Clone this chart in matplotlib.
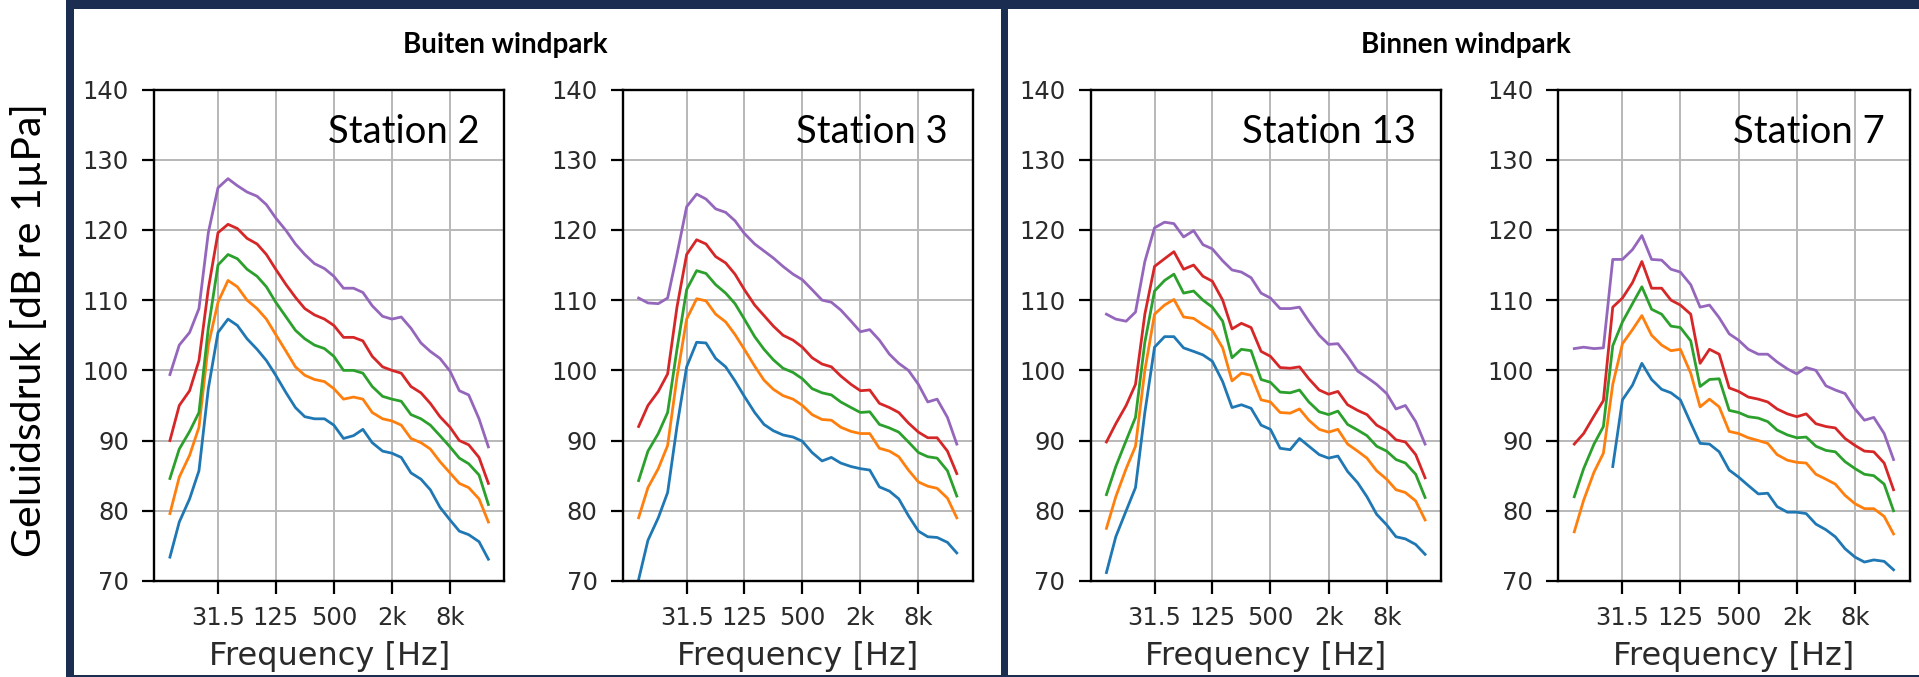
import numpy as np
import matplotlib
matplotlib.use("Agg")
from matplotlib import pyplot as plt
from matplotlib.patches import Rectangle
from matplotlib.ticker import NullLocator

## third-octave band centres [Hz]
freqs = [10, 12.5, 16, 20, 25, 31.5, 40, 50, 63, 80, 100, 125, 160, 200, 250, 315,
         400, 500, 630, 800, 1000, 1250, 1600, 2000, 2500, 3150, 4000, 5000, 6300,
         8000, 10000, 12500, 16000, 20000]
tick_freqs = [31.5, 125, 500, 2000, 8000]
tick_labels = ['31.5', '125', '500', '2k', '8k']

## Station 2 (buiten windpark)
st2_blue = [73.4, 78.4, 81.7, 85.7, 97.4, 105.4, 107.3, 106.4, 104.5, 103, 101.4, 99.3, 96.8, 94.7, 93.4, 93.1, 93.1,
            92.2, 90.3, 90.7, 91.6, 89.7, 88.5, 88.2, 87.6, 85.4, 84.5, 83, 80.5, 78.7, 77.1, 76.6, 75.6, 73.1]
st2_orange = [79.6, 84.8, 87.9, 91.9, 103.6, 109.7, 112.8, 111.9, 110, 108.8, 107.3, 105.1, 102.7, 100.5, 99.3, 98.7,
              98.4, 97.4, 95.9, 96.2, 95.9, 94, 93.1, 92.8, 92.2, 90.3, 89.7, 88.8, 87, 85.4, 83.9, 83.3, 81.7, 78.4]
st2_green = [84.6, 88.8, 91.3, 94, 106, 115, 116.5, 115.9, 114.4, 113.4, 111.9, 109.7, 107.6, 105.7, 104.5, 103.6,
             103.1, 102, 100, 100, 99.6, 97.7, 96.3, 95.9, 95.6, 93.7, 93.1, 92.2, 90.7, 89.1, 87.5, 86.7, 85.1, 80.9]
st2_red = [90, 95, 97.1, 101.4, 111.6, 119.6, 120.8, 120.2, 118.8, 118, 116.5, 114.4, 112.2, 110.4, 108.8, 107.9,
           107.3, 106.4, 104.7, 104.7, 104.2, 102, 100.5, 100, 99.6, 97.7, 96.8, 95.3, 93.4, 91.9, 90, 89.4, 87.6, 83.9]
st2_purple = [99.4, 103.6, 105.4, 108.8, 119.6, 126, 127.3, 126.3, 125.4, 124.8, 123.6, 121.7, 119.9, 118, 116.5,
              115.2, 114.5, 113.4, 111.7, 111.7, 111.1, 109.2, 107.7, 107.3, 107.6, 106, 103.9, 102.7, 101.7, 99.9,
              97.1, 96.5, 93.1, 89.1]

## Station 3 (buiten windpark)
st3_blue = [70.2, 75.8, 79, 82.6, 92, 100.5, 104, 103.9, 101.7, 100.5, 98.5, 96.3, 94, 92.3, 91.4, 90.8, 90.5, 89.9,
            88.3, 87.1, 87.6, 86.8, 86.3, 86, 85.8, 83.4, 82.8, 81.7, 79.3, 77.1, 76.3, 76.2, 75.5, 74]
st3_orange = [79, 83.3, 86, 89.3, 99, 107.3, 110.2, 109.9, 108, 106.9, 105.1, 103, 100.6, 98.6, 97.3, 96.4, 95.9, 95,
              93.7, 93, 92.9, 91.9, 91.3, 91, 91, 88.9, 88.5, 87.7, 85.8, 84.1, 83.5, 83.2, 81.8, 79]
st3_green = [84.3, 88.5, 91, 94, 103, 111.5, 114.2, 113.8, 112.2, 111, 109.5, 107.3, 104.8, 103, 101.5, 100.3, 99.7,
             98.8, 97.4, 96.8, 96.5, 95.5, 94.7, 94, 94.1, 92.3, 91.8, 91.2, 89.8, 88.3, 87.7, 87.5, 85.7, 82.1]
st3_red = [92, 95, 97, 99.5, 109, 116.5, 118.6, 118, 116.2, 115.3, 113.7, 111.5, 109.3, 107.8, 106.3, 105, 104.3,
           103.3, 101.8, 100.9, 100.5, 99.2, 98, 97.1, 97.2, 95.3, 94.7, 94, 92.5, 91.2, 90.4, 90.4, 88.5, 85.3]
st3_purple = [110.3, 109.6, 109.5, 110.3, 116.5, 123.3, 125.1, 124.4, 123, 122.5, 121.3, 119.5, 118, 117, 116, 114.8,
              113.7, 112.9, 111.5, 110, 109.7, 108.6, 107, 105.5, 105.8, 104.3, 102.3, 101, 100, 98, 95.5, 95.9,
              93.3, 89.5]

## Station 13 (binnen windpark)
st13_blue = [71.2, 76.3, 80, 83.3, 94, 103.3, 104.8, 104.8, 103.2, 102.7, 102.2, 101.3, 98.4, 94.7, 95.1, 94.6, 92.2,
             91.6, 88.9, 88.7, 90.3, 89.2, 88, 87.5, 87.8, 85.6, 84, 82, 79.5, 78, 76.3, 76, 75.2, 73.8]
st13_orange = [77.5, 82, 86, 89.2, 100, 108, 109.3, 110.1, 107.6, 107.4, 106.5, 105.7, 103.2, 98.5, 99.6, 99.3, 95.8,
               95.5, 94, 93.9, 94.5, 92.9, 91.6, 91.2, 91.6, 89.5, 88.5, 87.5, 85.7, 84.5, 83, 82.6, 81.4, 78.7]
st13_green = [82.3, 86.3, 90, 93.3, 104, 111.3, 112.8, 113.7, 111, 111.3, 110, 109, 107, 101.8, 103, 102.8, 98.7,
              98.3, 96.9, 96.8, 97.2, 95.5, 94.1, 93.7, 94.2, 92.3, 91.5, 90.7, 89.2, 88.5, 87.3, 86.8, 85.2, 81.9]
st13_red = [89.8, 92.4, 95, 98, 108, 114.8, 115.9, 116.9, 114.4, 115, 113.4, 112.7, 110, 105.9, 106.7, 106.1, 102.7,
            102, 100.4, 100.3, 100.5, 98.8, 97.2, 96.6, 97, 95.1, 94.3, 93.7, 92.2, 91.4, 90.1, 89.8, 88, 84.7]
st13_purple = [108, 107.3, 107, 108.3, 115.5, 120.3, 121.1, 120.9, 119, 119.9, 117.9, 117.3, 115.6, 114.3, 114,
               113.2, 111, 110.3, 108.8, 108.8, 109, 107, 105, 103.7, 103.8, 102, 99.9, 99, 98, 96.7, 94.5, 95,
               92.7, 89.5]

## Station 7 (binnen windpark), lowest curve starts at 25 Hz
st7_blue = [np.nan, np.nan, np.nan, np.nan, 86.3, 95.8, 97.9, 101, 98.7, 97.3, 96.8, 95.8, 92.5, 89.6, 89.5, 88.4,
            85.8, 84.8, 83.6, 82.4, 82.5, 80.6, 79.8, 79.8, 79.6, 78.1, 77.3, 76.3, 74.6, 73.4, 72.7, 73, 72.8, 71.6]
st7_orange = [77, 81.5, 85.5, 88.2, 98, 103.8, 105.8, 107.8, 105, 103.6, 102.8, 103, 99.6, 94.8, 95.9, 94.8, 91.3,
              91, 90.4, 90, 89.6, 88, 87.2, 86.9, 86.8, 85.2, 84.5, 83.8, 82.2, 81, 80.3, 80.3, 79.2, 76.7]
st7_green = [82, 86, 89.5, 92, 103.5, 106.9, 109.5, 111.9, 108.7, 108, 106.3, 106.1, 104.2, 97.7, 98.7, 98.8, 94.3,
             94, 93.4, 93.2, 92.7, 91.5, 90.8, 90.4, 90.5, 89.2, 88.6, 88.4, 87, 86, 85.2, 85, 83.8, 80]
st7_red = [89.5, 91, 93.5, 95.7, 109, 110.3, 112.5, 115.5, 111.7, 111.7, 110, 109.3, 108, 101, 103, 102.3, 97.5, 97,
           96.2, 95.9, 95.5, 94.5, 93.8, 93.4, 93.8, 92.4, 92, 91.8, 90.3, 89.3, 88.5, 88.4, 86.8, 83]
st7_purple = [103.1, 103.3, 103.1, 103.2, 115.8, 115.8, 117.2, 119.2, 115.8, 115.7, 114.4, 114, 112.2, 109, 109.3,
              107.5, 105.2, 104.3, 103, 102.3, 102.3, 101.2, 100.2, 99.5, 100.4, 100, 97.8, 97.2, 96.7, 94.5, 92.9,
              93.3, 91, 87.3]

stations = ['Station 2', 'Station 3', 'Station 13', 'Station 7']
station_data = [
    [st2_blue, st2_orange, st2_green, st2_red, st2_purple],
    [st3_blue, st3_orange, st3_green, st3_red, st3_purple],
    [st13_blue, st13_orange, st13_green, st13_red, st13_purple],
    [st7_blue, st7_orange, st7_green, st7_red, st7_purple],
]
line_colors = ['tab:blue', 'tab:orange', 'tab:green', 'tab:red', 'tab:purple']


## figure in pixel units
W, H = 1919, 677
fig = plt.figure(figsize=(W / 100, H / 100), dpi=100)
fig.patch.set_facecolor('white')

def px_rect(left, top, right, bottom):
    return [left / W, 1 - bottom / H, (right - left) / W, (bottom - top) / H]

axes_px = [(154, 89.5, 504.3, 581), (622.7, 89.5, 972.7, 581),
           (1090.5, 89.5, 1441, 581), (1558.3, 89.5, 1909.5, 581)]

for (l, t, r, b), name, curves in zip(axes_px, stations, station_data):
    ax = fig.add_axes(px_rect(l, t, r, b))
    for vals, col in zip(curves, line_colors):
        ax.plot(freqs, vals, color=col, lw=2.0)
    ax.set_xscale('log')
    ax.set_ylim(70, 140)
    ax.set_yticks(range(70, 141, 10))
    ax.set_xticks(tick_freqs)
    ax.set_xticklabels(tick_labels)
    ax.xaxis.set_minor_locator(NullLocator())
    ax.grid(True, color='#b8b8b8', lw=1.4)
    ax.set_axisbelow(True)
    for sp in ax.spines.values():
        sp.set_linewidth(1.7)
    ax.tick_params(length=9, width=1.6, labelsize=17.5, labelcolor='#2a2a2a')
    ax.tick_params(axis='y', pad=9)
    ax.tick_params(axis='x', pad=9)
    ax.set_xlabel('Frequency [Hz]', fontsize=23, color='#2a2a2a', labelpad=8)
    ax.text(0.929, 0.891, name, transform=ax.transAxes, ha='right', va='baseline',
            fontsize=27.5, family='Lato')

## group titles
fig.text(505 / W, 1 - 45 / H, 'Buiten windpark', ha='center', va='center',
         fontsize=20, fontweight='bold', family='Lato')
fig.text(1466 / W, 1 - 45 / H, 'Binnen windpark', ha='center', va='center',
         fontsize=20, fontweight='bold', family='Lato')

## shared y label
fig.text(29 / W, 1 - 330 / H, 'Geluidsdruk [dB re 1µPa]', rotation=90, ha='center', va='center',
         fontsize=29.5, family='Lato')

## navy frames round the two groups
navy = '#1c2d52'
for l, t, r, b in [(66, 0, 74, 677), (66, 0, 1919, 8.5), (1000.7, 0, 1008.3, 677), (66, 675, 1919, 677)]:
    x0, y0, w, h = px_rect(l, t, r, b)
    fig.add_artist(Rectangle((x0, y0), w, h, transform=fig.transFigure, facecolor=navy,
                             edgecolor='none', zorder=5))

fig.savefig('out.png', dpi=100)
